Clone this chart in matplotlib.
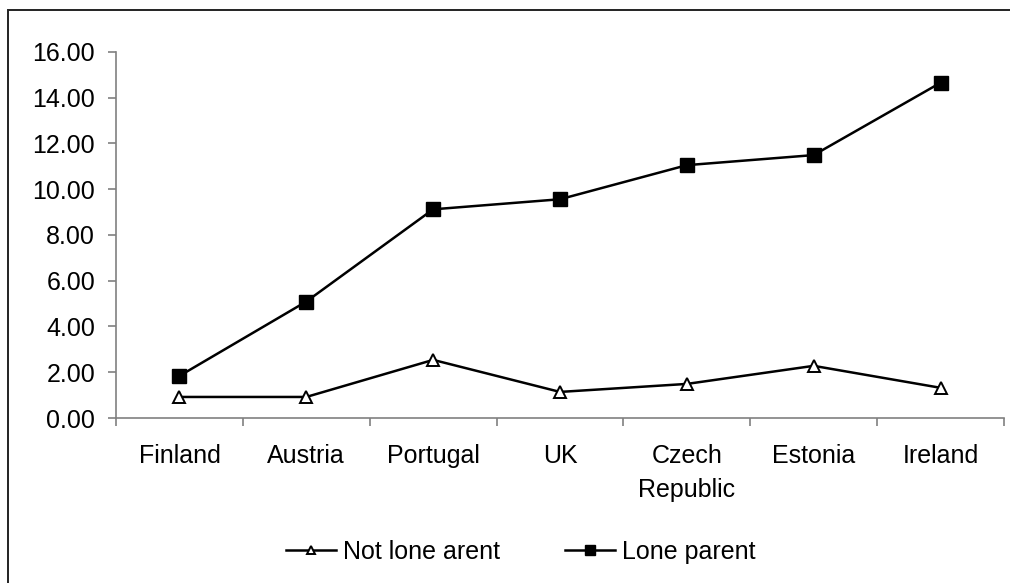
import numpy as np
import matplotlib.pyplot as plt
from matplotlib.patches import Rectangle
from matplotlib.ticker import FormatStrFormatter, MultipleLocator, FixedLocator

plt.rcParams['font.family'] = ['Liberation Sans', 'DejaVu Sans']

countries = ['Finland', 'Austria', 'Portugal', 'UK', 'Czech\nRepublic', 'Estonia', 'Ireland']
not_lone = [0.92, 0.92, 2.54, 1.14, 1.49, 2.28, 1.32]
lone = [1.84, 5.09, 9.12, 9.56, 11.05, 11.49, 14.65]

fig = plt.figure(figsize=(10.1, 5.83), dpi=100)
ax = fig.add_axes([0.1149, 0.283, 0.994 - 0.1149, 0.911 - 0.283])

# outer chart border (runs off the right and bottom edges)
fig.patches.append(Rectangle((8 / 1010, -0.05), 1.2, (583 - 10) / 583 + 0.05,
                             transform=fig.transFigure, fill=False,
                             edgecolor='#222222', linewidth=1.4))

x = np.arange(len(countries))
ax.plot(x, not_lone, color='black', lw=1.8, marker='^', ms=9,
        markerfacecolor='white', markeredgecolor='black', mew=1.4,
        label='Not lone arent')
ax.plot(x, lone, color='black', lw=1.8, marker='s', ms=9.5,
        markerfacecolor='black', markeredgecolor='black',
        label='Lone parent')

ax.set_xlim(-0.5, len(countries) - 0.5)
ax.set_ylim(0, 16)
ax.yaxis.set_major_locator(MultipleLocator(2))
ax.yaxis.set_major_formatter(FormatStrFormatter('%.2f'))
ax.set_xticks(x)
ax.set_xticklabels(countries, linespacing=1.5)
ax.xaxis.set_minor_locator(FixedLocator(np.arange(-0.5, len(countries), 1)))

ax.tick_params(axis='x', which='major', length=0, pad=19, labelsize=18)
ax.tick_params(axis='x', which='minor', length=6, width=1.2, color='#808080', direction='out')
ax.tick_params(axis='y', length=6, width=1.2, color='#808080', pad=9, labelsize=18)

for s in ['top', 'right']:
    ax.spines[s].set_visible(False)
for s in ['left', 'bottom']:
    ax.spines[s].set_color('#808080')
    ax.spines[s].set_linewidth(1.2)

fig.legend(loc='center', bbox_to_anchor=(0.516, 0.053), ncol=2, frameon=False,
           fontsize=18, handlelength=2.0, handletextpad=0.28, columnspacing=2.6,
           markerscale=0.7)

fig.savefig('out.png', dpi=100)
